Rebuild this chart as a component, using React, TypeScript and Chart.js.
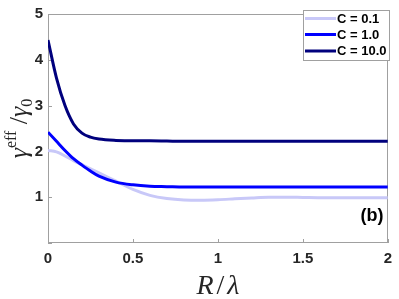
import React, { useEffect, useRef } from "react";
import { Chart, registerables } from "chart.js";

Chart.register(...registerables);

const xValues = [0, 0.05, 0.1, 0.15, 0.2, 0.25, 0.3, 0.4, 0.5, 0.6, 0.7, 0.8, 0.9, 1.0, 1.1, 1.2, 1.3, 1.4, 1.5, 1.6, 1.7, 1.8, 1.9, 2.0];
const seriesC01 = [2.02, 1.99, 1.9, 1.8, 1.71, 1.62, 1.53, 1.35, 1.17, 1.04, 0.97, 0.94, 0.935, 0.945, 0.965, 0.985, 1.0, 1.0, 0.995, 0.99, 0.99, 0.99, 0.99, 0.99];
const seriesC1 = [2.42, 2.22, 2.02, 1.84, 1.7, 1.57, 1.46, 1.33, 1.27, 1.24, 1.23, 1.22, 1.22, 1.22, 1.22, 1.22, 1.22, 1.22, 1.22, 1.22, 1.22, 1.22, 1.22, 1.22];
const seriesC10 = [4.43, 3.6, 3.0, 2.6, 2.4, 2.31, 2.27, 2.24, 2.23, 2.23, 2.225, 2.22, 2.22, 2.22, 2.22, 2.22, 2.22, 2.22, 2.22, 2.22, 2.22, 2.22, 2.22, 2.22];
const seriesLabels = ["C = 0.1", "C = 1.0", "C = 10.0"];
const seriesColors = ["rgb(200,200,248)", "rgb(0,0,255)", "rgb(0,0,125)"];
const xTicks = [0, 0.5, 1, 1.5, 2];
const yTicks = [0, 1, 2, 3, 4, 5];
const panelLabel = "(b)";

const toPoints = (ys: number[]) => ys.map((y, i) => ({ x: xValues[i], y }));

export default function App() {
  const ref = useRef<HTMLCanvasElement | null>(null);

  useEffect(() => {
    if (!ref.current) return;
    const decor = {
      id: "decor",
      beforeDatasetsDraw(chart: any) {
        const { ctx, chartArea: a, scales } = chart;
        ctx.save();
        ctx.strokeStyle = "#a0a0a0";
        ctx.lineWidth = 1;
        ctx.strokeRect(Math.round(a.left) + 0.5, Math.round(a.top) + 0.5, Math.round(a.right - a.left) - 1, Math.round(a.bottom - a.top) - 1);
        ctx.beginPath();
        for (const t of xTicks) {
          const px = Math.round(scales.x.getPixelForValue(t)) + 0.5;
          ctx.moveTo(px, a.bottom);
          ctx.lineTo(px, a.bottom - 4);
        }
        for (const t of yTicks) {
          const py = Math.round(scales.y.getPixelForValue(t)) + 0.5;
          ctx.moveTo(a.left, py);
          ctx.lineTo(a.left + 4, py);
        }
        ctx.stroke();
        ctx.restore();
      },
      afterDraw(chart: any) {
        const { ctx, chartArea: a } = chart;
        ctx.save();
        // legend
        ctx.fillStyle = "#ffffff";
        ctx.fillRect(303, 10, 86, 50);
        ctx.strokeStyle = "#a0a0a0";
        ctx.lineWidth = 1;
        ctx.strokeRect(303.5, 10.5, 86, 50);
        const ys = [18.5, 34.5, 51];
        ctx.font = "bold 13px 'Liberation Sans', Arial, sans-serif";
        ctx.textBaseline = "middle";
        ctx.textAlign = "left";
        seriesLabels.forEach((lab, i) => {
          ctx.strokeStyle = seriesColors[i];
          ctx.lineWidth = 3;
          ctx.beginPath();
          ctx.moveTo(305, ys[i]);
          ctx.lineTo(336, ys[i]);
          ctx.stroke();
          ctx.fillStyle = "#000000";
          ctx.fillText(lab, 337, ys[i] + 0.5);
        });
        // panel label
        ctx.font = "bold 18px 'Liberation Sans', Arial, sans-serif";
        ctx.textAlign = "center";
        ctx.fillStyle = "#000000";
        ctx.fillText(panelLabel, 372, 216);
        // x title
        ctx.fillStyle = "#262626";
        ctx.textBaseline = "alphabetic";
        const cx = (a.left + a.right) / 2;
        const gap = 3;
        const partsX = [
          { t: "R", f: "italic 28px 'Liberation Serif', serif" },
          { t: "/", f: "28px 'Liberation Serif', serif" },
          { t: "λ", f: "italic 28px 'Liberation Serif', serif" },
        ];
        let wx = 0;
        for (const p of partsX) { ctx.font = p.f; wx += ctx.measureText(p.t).width + gap; }
        wx -= gap;
        let xx = cx - wx / 2;
        ctx.textAlign = "left";
        for (const p of partsX) { ctx.font = p.f; ctx.fillText(p.t, xx, 294); xx += ctx.measureText(p.t).width + gap; }
        // y title (rotated)
        ctx.translate(27, (a.top + a.bottom) / 2);
        ctx.rotate(-Math.PI / 2);
        const partsY = [
          { t: "γ", f: "italic 26px 'Liberation Serif', serif", dy: 0 },
          { t: "eff", f: "16px 'Liberation Serif', serif", dy: -11 },
          { t: " /", f: "26px 'Liberation Serif', serif", dy: 0 },
          { t: "γ", f: "italic 26px 'Liberation Serif', serif", dy: 0 },
          { t: "0", f: "16px 'Liberation Serif', serif", dy: 5 },
        ];
        let wy = 0;
        for (const p of partsY) { ctx.font = p.f; wy += ctx.measureText(p.t).width; }
        let yy = -wy / 2;
        for (const p of partsY) { ctx.font = p.f; ctx.fillText(p.t, yy, p.dy); yy += ctx.measureText(p.t).width; }
        ctx.restore();
      },
    };

    const chart = new Chart(ref.current, {
      type: "line",
      data: {
        datasets: [seriesC01, seriesC1, seriesC10].map((s, i) => ({
          label: seriesLabels[i],
          data: toPoints(s),
          borderColor: seriesColors[i],
          backgroundColor: seriesColors[i],
          borderWidth: 3,
          pointRadius: 0,
          cubicInterpolationMode: "monotone" as const,
          fill: false,
          order: 3 - i,
        })),
      },
      options: {
        animation: false,
        responsive: true,
        maintainAspectRatio: false,
        layout: { padding: { top: 5, right: 6, left: 0, bottom: 0 } },
        plugins: { legend: { display: false }, tooltip: { enabled: false } },
        scales: {
          x: {
            type: "linear",
            min: 0,
            max: 2,
            grid: { display: false, drawTicks: false },
            border: { display: false },
            afterBuildTicks: (s: any) => { s.ticks = xTicks.map((v) => ({ value: v })); },
            afterFit: (s: any) => { s.height = 56; },
            ticks: {
              padding: 7,
              color: "#262626",
              font: { family: "'Liberation Sans', Arial, sans-serif", size: 15, weight: "bold" },
              callback: (v: any) => String(v),
            },
          },
          y: {
            type: "linear",
            min: 0,
            max: 5,
            grid: { display: false, drawTicks: false },
            border: { display: false },
            afterBuildTicks: (s: any) => { s.ticks = yTicks.map((v) => ({ value: v })); },
            afterFit: (s: any) => { s.width = 48; },
            ticks: {
              padding: 5,
              color: "#262626",
              font: { family: "'Liberation Sans', Arial, sans-serif", size: 15, weight: "bold" },
              callback: (v: any) => (v === 0 ? "" : String(v)),
            },
          },
        },
      },
      plugins: [decor],
    });
    return () => chart.destroy();
  }, []);

  return (
    <div style={{ position: "fixed", left: 0, top: 0, width: 399, height: 299, background: "#fff" }}>
      <canvas ref={ref} />
    </div>
  );
}
